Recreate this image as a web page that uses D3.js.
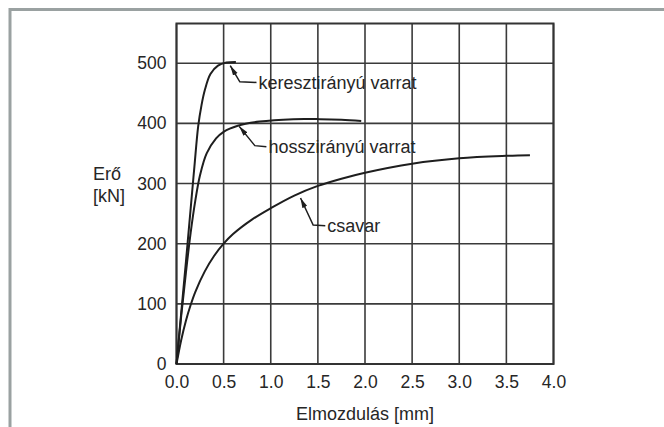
<!DOCTYPE html>
<html>
<head>
<meta charset="utf-8">
<script src="https://cdn.jsdelivr.net/npm/d3@7"></script>
<style>
    body { margin: 0; background: #fff; }
    text { font-family: "Liberation Sans", Arial, sans-serif; fill: #262626; }
</style>
</head>
<body>
<div id="chart"></div>
<script>
// Data (displacement in mm, force in kN)
const keresztX = [0, 0.05, 0.1, 0.15, 0.19, 0.23, 0.265, 0.30, 0.36, 0.44, 0.53, 0.63];
const keresztY = [0, 85, 170, 258, 328, 395, 430, 455, 482, 496, 501, 502];

const hosszX = [0, 0.05, 0.1, 0.15, 0.2, 0.25, 0.32, 0.42, 0.5, 0.65, 0.88, 1.24, 1.52, 1.75, 1.96];
const hosszY = [0, 80, 152, 218, 272, 314, 350, 375, 386, 396, 403, 407, 407, 406, 404];

const csavarX = [0, 0.05, 0.1, 0.15, 0.2, 0.3, 0.4, 0.5, 0.6, 0.8, 1.0, 1.25, 1.5, 1.75, 2.0, 2.5, 3.0, 3.5, 3.75];
const csavarY = [0, 40, 72, 98, 120, 154, 180, 200, 216, 240, 259, 280, 296, 308, 318, 333, 342, 346, 347];

const xTicks = [0, 0.5, 1.0, 1.5, 2.0, 2.5, 3.0, 3.5, 4.0];
const yTicks = [0, 100, 200, 300, 400, 500];

// label annotations: arrow tip on curve, elbow, text start
const labels = ["keresztirányú varrat", "hosszirányú varrat", "csavar"];
const tips = [[0.57, 496], [0.665, 395], [1.316, 276]];
const elbows = [[0.672, 469], [0.831, 363], [1.45, 231]];
const textAt = [[0.87, 468], [0.975, 361], [1.6, 230]];

const width = 664, height = 427;
const margin = { left: 176.5, right: 110.5, top: 23.5, bottom: 63 };

const svg = d3.create("svg")
    .attr("width", width)
    .attr("height", height);

// outer frame of the figure
svg.append("path")
    .attr("d", `M10,${height} V9.5 H${width}`)
    .attr("fill", "none")
    .attr("stroke", "#9aa1a1")
    .attr("stroke-width", 3);

const x = d3.scaleLinear().domain([0, 4]).range([margin.left, width - margin.right]);
const y = d3.scaleLinear().domain([0, 566]).range([height - margin.bottom, margin.top]);

// Grid
const grid = svg.append("g")
    .attr("stroke", "#3a3a3a")
    .attr("stroke-width", 1.6);

grid.selectAll("line.v")
    .data(xTicks)
    .enter().append("line")
    .attr("class", "v")
    .attr("x1", d => x(d)).attr("x2", d => x(d))
    .attr("y1", y.range()[0]).attr("y2", y.range()[1]);

grid.selectAll("line.h")
    .data(yTicks)
    .enter().append("line")
    .attr("class", "h")
    .attr("x1", x.range()[0]).attr("x2", x.range()[1])
    .attr("y1", d => y(d)).attr("y2", d => y(d));

svg.append("rect")
    .attr("x", x.range()[0])
    .attr("y", y.range()[1])
    .attr("width", x.range()[1] - x.range()[0])
    .attr("height", y.range()[0] - y.range()[1])
    .attr("fill", "none")
    .attr("stroke", "#333")
    .attr("stroke-width", 2);

// Axes (labels only)
const xAxis = d3.axisBottom(x).tickValues(xTicks).tickFormat(d3.format(".1f")).tickSize(0).tickPadding(12);
const yAxis = d3.axisLeft(y).tickValues(yTicks).tickSize(0).tickPadding(10);

svg.append("g")
    .attr("transform", `translate(0,${y.range()[0]})`)
    .call(xAxis)
    .call(g => g.select(".domain").remove())
    .selectAll("text")
    .attr("font-size", 17.5)
    .attr("font-family", null)
    .attr("fill", "#262626");

svg.append("g")
    .attr("transform", `translate(${x.range()[0]},0)`)
    .call(yAxis)
    .call(g => g.select(".domain").remove())
    .selectAll("text")
    .attr("font-size", 17.5)
    .attr("font-family", null)
    .attr("fill", "#262626");

svg.append("text")
    .attr("x", (x.range()[0] + x.range()[1]) / 2)
    .attr("y", 420)
    .attr("text-anchor", "middle")
    .attr("font-size", 18)
    .text("Elmozdulás [mm]");

svg.append("text")
    .attr("x", 93)
    .attr("y", 180)
    .attr("font-size", 18)
    .text("Erő");

svg.append("text")
    .attr("x", 93)
    .attr("y", 202)
    .attr("font-size", 18)
    .text("[kN]");

// Curves
const line = d3.line()
    .x(d => x(d[0]))
    .y(d => y(d[1]))
    .curve(d3.curveCatmullRom.alpha(0.5));

const series = [
    d3.zip(keresztX, keresztY),
    d3.zip(hosszX, hosszY),
    d3.zip(csavarX, csavarY)
];

svg.append("g")
    .selectAll("path")
    .data(series)
    .enter().append("path")
    .attr("d", line)
    .attr("fill", "none")
    .attr("stroke", "#1e1e1e")
    .attr("stroke-width", 2);

// Arrow marker, point sits on the curve
svg.append("defs").append("marker")
    .attr("id", "arrow")
    .attr("viewBox", "0 -3 10 6")
    .attr("refX", 0)
    .attr("refY", 0)
    .attr("markerWidth", 10)
    .attr("markerHeight", 6)
    .attr("markerUnits", "userSpaceOnUse")
    .attr("orient", "auto")
    .append("path")
    .attr("d", "M0,0L10,-2.6L10,2.6Z")
    .attr("fill", "#1e1e1e");

const notes = svg.append("g");

labels.forEach((lab, i) => {
    const tx = x(textAt[i][0]), ty = y(textAt[i][1]);
    notes.append("path")
        .attr("d", `M${x(tips[i][0])},${y(tips[i][1])} L${x(elbows[i][0])},${y(elbows[i][1])} L${tx - 2},${ty}`)
        .attr("fill", "none")
        .attr("stroke", "#1e1e1e")
        .attr("stroke-width", 1.5)
        .attr("marker-start", "url(#arrow)");

    notes.append("text")
        .attr("x", tx)
        .attr("y", ty)
        .attr("dy", "0.35em")
        .attr("font-size", 18)
        .text(lab);
});

document.getElementById("chart").appendChild(svg.node());
</script>
</body>
</html>
